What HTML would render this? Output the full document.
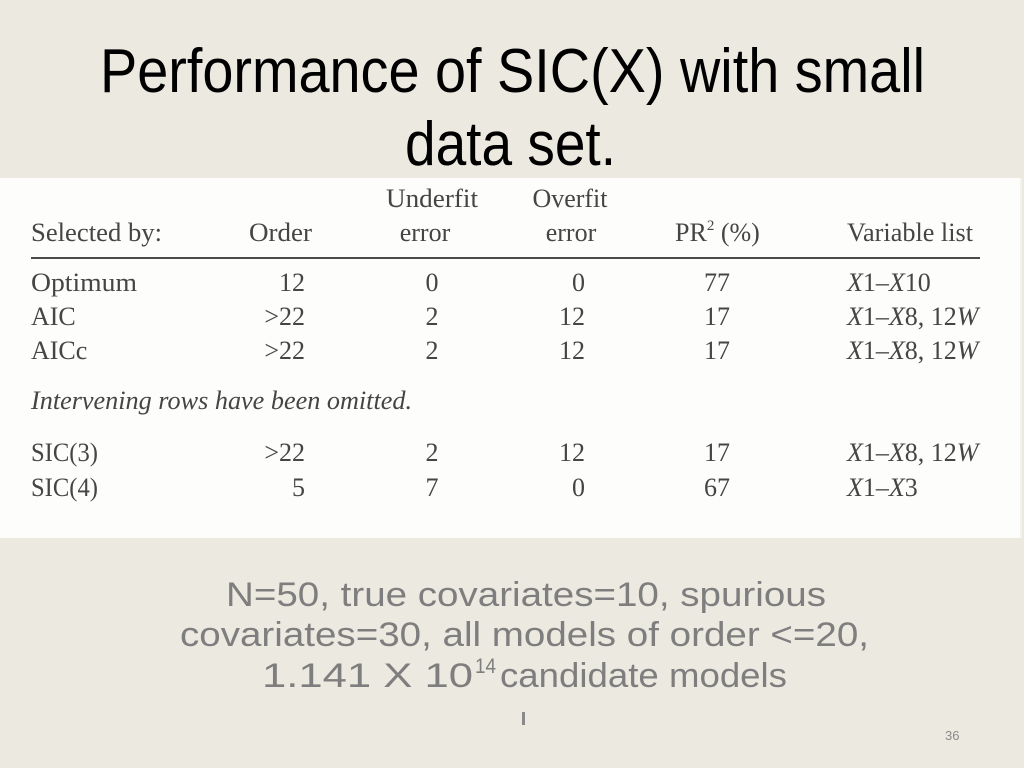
<!DOCTYPE html>
<html>
<head>
<meta charset="utf-8">
<style>
  html, body { margin: 0; padding: 0; }
  body { width: 1024px; height: 768px; overflow: hidden; background: #ECE9E0; }
  svg { display: block; }
</style>
</head>
<body>
<svg width="1024" height="768" viewBox="0 0 1024 768" xmlns="http://www.w3.org/2000/svg">
  <rect x="0" y="0" width="1024" height="768" fill="#ECE9E0"/>

  <!-- Title -->
  <g font-family="'Liberation Sans', sans-serif" font-size="62" fill="#000">
    <text x="100" y="92" textLength="825" lengthAdjust="spacingAndGlyphs">Performance of SIC(X) with small</text>
    <text x="405" y="165" textLength="211" lengthAdjust="spacingAndGlyphs">data set.</text>
  </g>

  <!-- Table image -->
  <rect x="0" y="178" width="1020" height="360" fill="#FDFDFC"/>
  <rect x="1020" y="178" width="2" height="360" fill="#F3F2EC"/>

  <g font-family="'Liberation Serif', serif" font-size="26" fill="#454545">
    <!-- headers -->
    <text x="432" y="207" text-anchor="middle" textLength="92" lengthAdjust="spacingAndGlyphs">Underfit</text>
    <text x="570" y="207" text-anchor="middle" textLength="75" lengthAdjust="spacingAndGlyphs">Overfit</text>

    <text x="31" y="241" textLength="131" lengthAdjust="spacingAndGlyphs">Selected by:</text>
    <text x="249" y="241" textLength="63" lengthAdjust="spacingAndGlyphs">Order</text>
    <text x="425" y="241" text-anchor="middle">error</text>
    <text x="571" y="241" text-anchor="middle">error</text>
    <text x="675" y="241">PR<tspan font-size="15" dy="-11">2</tspan><tspan dy="11"> (%)</tspan></text>
    <text x="847" y="241" textLength="126" lengthAdjust="spacingAndGlyphs">Variable list</text>

    <rect x="31" y="257" width="949" height="2" fill="#4a4a4a"/>

    <!-- Optimum -->
    <text x="31" y="291" textLength="106" lengthAdjust="spacingAndGlyphs">Optimum</text>
    <text x="305" y="291" text-anchor="end">12</text>
    <text x="432" y="291" text-anchor="middle">0</text>
    <text x="585" y="291" text-anchor="end">0</text>
    <text x="717" y="291" text-anchor="middle">77</text>
    <text x="847" y="291"><tspan font-style="italic">X</tspan>1–<tspan font-style="italic">X</tspan>10</text>

    <!-- AIC -->
    <text x="31" y="325">AIC</text>
    <text x="305" y="325" text-anchor="end">&gt;22</text>
    <text x="432" y="325" text-anchor="middle">2</text>
    <text x="585" y="325" text-anchor="end">12</text>
    <text x="717" y="325" text-anchor="middle">17</text>
    <text x="847" y="325"><tspan font-style="italic">X</tspan>1–<tspan font-style="italic">X</tspan>8, 12<tspan font-style="italic">W</tspan></text>

    <!-- AICc -->
    <text x="31" y="359">AICc</text>
    <text x="305" y="359" text-anchor="end">&gt;22</text>
    <text x="432" y="359" text-anchor="middle">2</text>
    <text x="585" y="359" text-anchor="end">12</text>
    <text x="717" y="359" text-anchor="middle">17</text>
    <text x="847" y="359"><tspan font-style="italic">X</tspan>1–<tspan font-style="italic">X</tspan>8, 12<tspan font-style="italic">W</tspan></text>

    <!-- note -->
    <text x="31" y="409" font-style="italic" textLength="381" lengthAdjust="spacingAndGlyphs">Intervening rows have been omitted.</text>

    <!-- SIC(3) -->
    <text x="31" y="461" textLength="67" lengthAdjust="spacingAndGlyphs">SIC(3)</text>
    <text x="305" y="461" text-anchor="end">&gt;22</text>
    <text x="432" y="461" text-anchor="middle">2</text>
    <text x="585" y="461" text-anchor="end">12</text>
    <text x="717" y="461" text-anchor="middle">17</text>
    <text x="847" y="461"><tspan font-style="italic">X</tspan>1–<tspan font-style="italic">X</tspan>8, 12<tspan font-style="italic">W</tspan></text>

    <!-- SIC(4) -->
    <text x="31" y="496" textLength="67" lengthAdjust="spacingAndGlyphs">SIC(4)</text>
    <text x="305" y="496" text-anchor="end">5</text>
    <text x="432" y="496" text-anchor="middle">7</text>
    <text x="585" y="496" text-anchor="end">0</text>
    <text x="717" y="496" text-anchor="middle">67</text>
    <text x="847" y="496"><tspan font-style="italic">X</tspan>1–<tspan font-style="italic">X</tspan>3</text>
  </g>

  <!-- Bottom caption -->
  <g font-family="'Liberation Sans', sans-serif" font-size="34" fill="#7E7E7E">
    <text x="226" y="606" textLength="600" lengthAdjust="spacingAndGlyphs">N=50, true covariates=10, spurious</text>
    <text x="180" y="646" textLength="689" lengthAdjust="spacingAndGlyphs">covariates=30, all models of order &lt;=20,</text>
    <text x="262" y="687" textLength="211" lengthAdjust="spacingAndGlyphs">1.141 X 10</text>
    <text x="475" y="673" font-size="21" textLength="21" lengthAdjust="spacingAndGlyphs">14</text>
    <text x="500" y="687" textLength="287" lengthAdjust="spacingAndGlyphs">candidate models</text>
  </g>

  <!-- small mark -->
  <rect x="522" y="712" width="3" height="13" fill="#8A8A8A"/>

  <!-- page number -->
  <text x="945" y="740" font-family="'Liberation Sans', sans-serif" font-size="13" fill="#8A8A8A">36</text>
</svg>
</body>
</html>
